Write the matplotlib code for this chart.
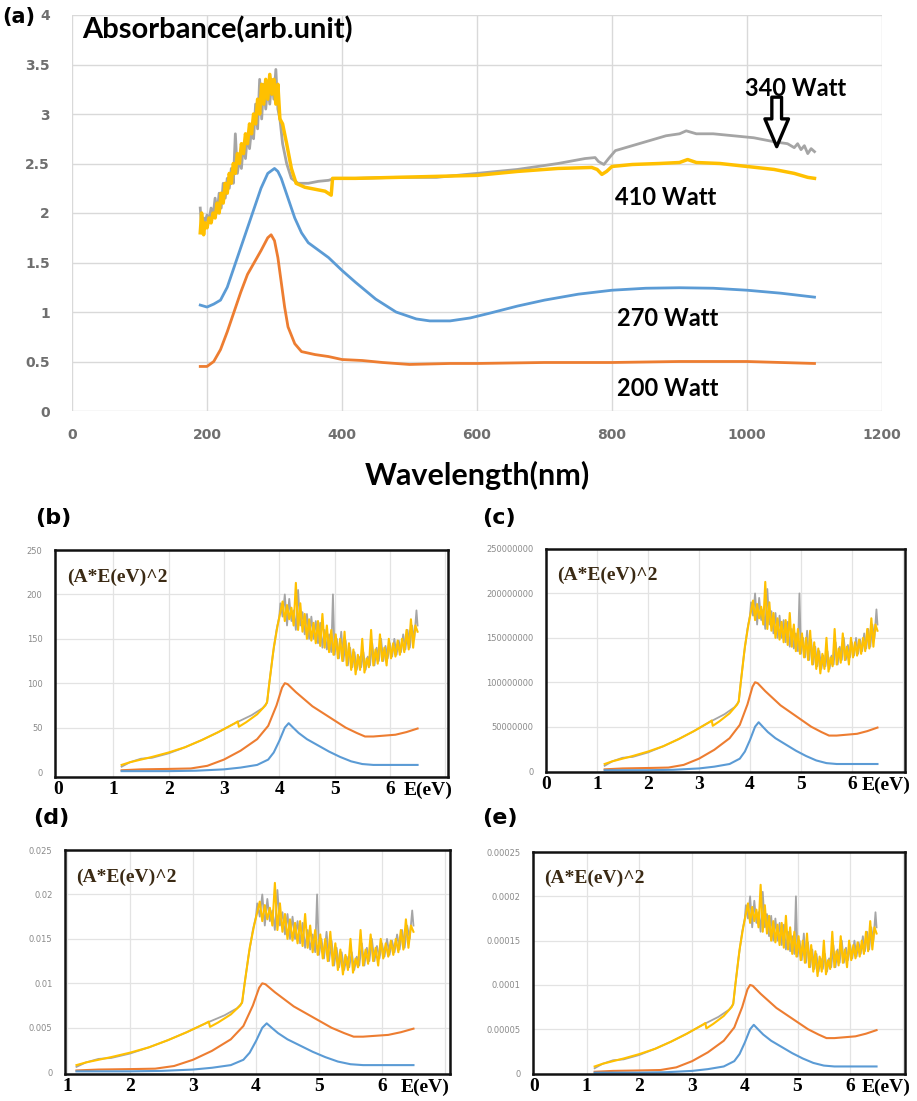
import numpy as np
import matplotlib
matplotlib.use('Agg')
import matplotlib.pyplot as plt

# ---------------- (a) absorbance vs wavelength ----------------
wl_200 = [190, 200, 210, 220, 230, 240, 250, 260, 270, 280, 290, 295, 300, 305, 310, 315, 320, 330, 340, 360,
          380, 400, 430, 460, 500, 560, 600, 700, 800, 900, 1000, 1050, 1100]
abs_200 = [0.45, 0.45, 0.5, 0.62, 0.8, 1.0, 1.2, 1.38, 1.5, 1.62, 1.75, 1.78, 1.72, 1.55, 1.3, 1.05, 0.85, 0.68, 0.6, 0.57,
           0.55, 0.52, 0.51, 0.49, 0.47, 0.48, 0.48, 0.49, 0.49, 0.5, 0.5, 0.49, 0.48]

wl_270 = [190, 200, 210, 220, 230, 240, 250, 260, 270, 280, 290, 300, 305, 310, 320, 330, 340, 350, 370, 380,
          400, 420, 450, 480, 510, 530, 560, 590, 620, 660, 700, 750, 800, 850, 900, 950, 1000, 1050, 1100]
abs_270 = [1.07, 1.05, 1.08, 1.12, 1.25, 1.45, 1.65, 1.85, 2.05, 2.25, 2.4, 2.45, 2.42, 2.35, 2.15, 1.95, 1.8, 1.7, 1.6, 1.55,
           1.42, 1.3, 1.13, 1.0, 0.93, 0.91, 0.91, 0.94, 0.99, 1.06, 1.12, 1.18, 1.22, 1.24, 1.245, 1.24, 1.22, 1.19, 1.15]

wl_340 = [190, 192, 195, 197, 200, 203, 206, 209, 212, 215, 218, 221, 224, 227, 230, 233, 236, 239, 242, 245,
          248, 251, 254, 257, 260, 263, 266, 269, 272, 275, 278, 281, 284, 287, 290, 293, 296, 299, 302, 305,
          308, 312, 318, 325, 335, 350, 365, 380, 390, 420, 480, 540, 600, 660, 720, 760, 775, 780, 788, 795,
          805, 830, 860, 880, 900, 910, 925, 950, 980, 1010, 1040, 1060, 1070, 1075, 1080, 1085, 1090, 1095, 1100]
abs_340 = [2.05, 1.85, 1.95, 1.9, 1.98, 1.92, 2.05, 1.97, 2.15, 2.0, 2.2, 2.05, 2.3, 2.15, 2.35, 2.25, 2.45, 2.3, 2.8, 2.4,
           2.55, 2.45, 2.7, 2.55, 2.8, 2.65, 2.85, 2.75, 3.1, 2.85, 3.35, 2.95, 3.3, 3.05, 3.3, 3.1, 3.35, 3.15, 3.45, 3.05,
           2.95, 2.7, 2.5, 2.35, 2.3, 2.3, 2.32, 2.33, 2.35, 2.35, 2.36, 2.36, 2.4, 2.44, 2.5, 2.55, 2.56, 2.52, 2.49, 2.55,
           2.63, 2.68, 2.74, 2.78, 2.8, 2.83, 2.8, 2.8, 2.78, 2.76, 2.72, 2.7, 2.66, 2.7, 2.64, 2.68, 2.6, 2.65, 2.62]

wl_410 = [190, 192, 195, 197, 200, 203, 206, 209, 212, 215, 218, 221, 224, 227, 230, 233, 236, 239, 242, 245,
          248, 251, 254, 257, 260, 263, 266, 269, 272, 275, 278, 281, 284, 287, 290, 293, 296, 299, 302, 305,
          308, 312, 318, 325, 332, 345, 360, 375, 384, 386, 420, 480, 540, 600, 660, 720, 770, 778, 785, 792,
          800, 830, 870, 900, 912, 925, 960, 1000, 1040, 1070, 1090, 1100]
abs_410 = [1.8, 2.0, 1.78, 1.9, 1.85, 1.95, 1.9, 2.0, 1.95, 2.1, 2.0, 2.2, 2.1, 2.3, 2.2, 2.4, 2.3, 2.5, 2.4, 2.6,
           2.5, 2.7, 2.6, 2.8, 2.7, 2.9, 2.8, 3.0, 2.9, 3.15, 3.0, 3.3, 3.1, 3.35, 3.15, 3.4, 3.2, 3.35, 3.1, 3.3,
           2.95, 2.9, 2.7, 2.45, 2.3, 2.26, 2.24, 2.22, 2.18, 2.35, 2.35, 2.36, 2.37, 2.38, 2.42, 2.45, 2.46, 2.44, 2.39, 2.42,
           2.47, 2.49, 2.5, 2.51, 2.54, 2.51, 2.5, 2.47, 2.44, 2.4, 2.36, 2.35]

# ---------------- (b)-(e) (A*E)^2 vs E, values in units of panel (b) ----------------
e_blue = [1.15, 1.5, 2.0, 2.5, 3.0, 3.3, 3.6, 3.8, 3.9, 4.0, 4.1, 4.17, 4.25, 4.35, 4.5, 4.7, 4.9, 5.1, 5.3, 5.5,
          5.7, 6.0, 6.3, 6.5]
t_blue = [1, 1, 1, 1.5, 3, 5, 8, 14, 22, 35, 50, 55, 50, 44, 37, 30, 23, 17, 12, 9,
          8, 8, 8, 8]

e_orange = [1.15, 1.5, 2.0, 2.4, 2.7, 3.0, 3.3, 3.6, 3.8, 3.95, 4.05, 4.1, 4.15, 4.3, 4.45, 4.6, 4.8, 5.0, 5.2, 5.4,
            5.55, 5.7, 5.9, 6.1, 6.3, 6.5]
t_orange = [2, 3, 3.5, 4, 7, 14, 24, 37, 52, 75, 95, 100, 99, 90, 82, 74, 66, 58, 50, 44,
            40, 40, 41, 42, 45, 49]

e_gray = [1.15, 1.3, 1.5, 1.7, 2.0, 2.3, 2.6, 2.9, 3.2, 3.3, 3.5, 3.7, 3.78, 3.82, 3.88, 3.95, 4.0,
          4.02, 4.06, 4.10, 4.14, 4.18, 4.22, 4.26, 4.30, 4.34, 4.38, 4.42, 4.46, 4.50, 4.54, 4.58, 4.62, 4.66, 4.70,
          4.74, 4.78, 4.82, 4.86, 4.90, 4.94, 4.97, 5.00, 5.04, 5.08, 5.12, 5.16, 5.20, 5.24, 5.28, 5.32, 5.36, 5.40,
          5.44, 5.48, 5.52, 5.56, 5.60, 5.64, 5.68, 5.72, 5.76, 5.80, 5.84, 5.88, 5.92, 5.96, 6.00, 6.04, 6.08, 6.12,
          6.16, 6.20, 6.24, 6.28, 6.32, 6.36, 6.40, 6.44, 6.48, 6.50]
t_gray = [6, 11, 15, 16, 21, 28, 36, 45, 55, 58, 64, 72, 78, 100, 130, 160, 175,
          190, 175, 200, 165, 195, 170, 182, 160, 205, 165, 180, 155, 178, 150, 175, 150, 170, 145,
          168, 140, 160, 138, 155, 135, 200, 132, 150, 128, 158, 125, 148, 120, 140, 118, 135, 115,
          130, 118, 135, 115, 130, 120, 145, 120, 140, 125, 150, 125, 142, 128, 145, 130, 150, 132,
          148, 135, 155, 138, 160, 140, 165, 150, 182, 165]

e_yellow = [1.15, 1.3, 1.5, 1.7, 2.0, 2.3, 2.6, 2.9, 3.2, 3.25, 3.27, 3.4, 3.6, 3.75, 3.78, 3.82, 3.9, 3.97,
            4.02, 4.06, 4.10, 4.14, 4.18, 4.22, 4.26, 4.30, 4.34, 4.38, 4.42, 4.46, 4.50, 4.54, 4.58, 4.62, 4.66,
            4.70, 4.74, 4.78, 4.82, 4.86, 4.90, 4.94, 4.98, 5.02, 5.06, 5.10, 5.14, 5.18, 5.22, 5.26, 5.30, 5.34,
            5.38, 5.42, 5.46, 5.50, 5.54, 5.58, 5.62, 5.66, 5.70, 5.74, 5.78, 5.82, 5.86, 5.90, 5.94, 5.98, 6.02,
            6.06, 6.10, 6.14, 6.18, 6.22, 6.26, 6.30, 6.34, 6.38, 6.42, 6.46, 6.50]
t_yellow = [8, 11, 14, 17, 22, 28, 36, 45, 55, 57, 51, 56, 65, 75, 79, 100, 140, 165,
            180, 192, 170, 188, 172, 185, 165, 213, 160, 190, 158, 178, 150, 172, 148, 168, 145,
            170, 142, 178, 140, 165, 135, 160, 132, 155, 128, 150, 125, 158, 120, 145, 115, 138,
            110, 132, 115, 150, 112, 128, 118, 160, 120, 138, 122, 155, 125, 140, 120, 150, 128,
            145, 130, 148, 132, 150, 135, 160, 138, 172, 140, 165, 158]

panel_names = ['(b)', '(c)', '(d)', '(e)']
panel_scale = [1, 1e6, 1e-4, 1e-6]
panel_yticklabels = [['0', '50', '100', '150', '200', '250'],
                     ['0', '50000000', '100000000', '150000000', '200000000', '250000000'],
                     ['0', '0.005', '0.01', '0.015', '0.02', '0.025'],
                     ['0', '0.00005', '0.0001', '0.00015', '0.0002', '0.00025']]
panel_xticks = [[0, 1, 2, 3, 4, 5, 6], [0, 1, 2, 3, 4, 5, 6], [1, 2, 3, 4, 5, 6], [0, 1, 2, 3, 4, 5, 6]]

BLUE = '#5B9BD5'
ORANGE = '#ED7D31'
GRAY = '#A5A5A5'
YELLOW = '#FFC000'

W, H = 917, 1101
fig = plt.figure(figsize=(W / 100, H / 100), dpi=100)


def box(l, t, r, b):
    return [l / W, 1 - b / H, (r - l) / W, (b - t) / H]


# ---- panel (a)
ax = fig.add_axes(box(72, 15, 882, 411))
ax.plot(wl_200, abs_200, color=ORANGE, lw=2)
ax.plot(wl_270, abs_270, color=BLUE, lw=2)
ax.plot(wl_340, abs_340, color=GRAY, lw=2)
ax.plot(wl_410, abs_410, color=YELLOW, lw=2.5)
ax.set_xlim(0, 1200)
ax.set_ylim(0, 4)
ax.set_xticks(range(0, 1201, 200))
ax.set_yticks([0, 0.5, 1, 1.5, 2, 2.5, 3, 3.5, 4])
ax.set_yticklabels(['0', '0.5', '1', '1.5', '2', '2.5', '3', '3.5', '4'])
ax.grid(color='#d9d9d9', lw=1)
ax.set_axisbelow(True)
for s in ax.spines.values():
    s.set_visible(False)
ax.tick_params(length=0, labelsize=10, labelcolor='#6f6f6f')
ax.tick_params(axis='y', pad=16)
ax.tick_params(axis='x', pad=12)
for lab in ax.get_xticklabels() + ax.get_yticklabels():
    lab.set_fontweight('bold')
ax.set_xlabel('Wavelength(nm)', fontsize=22, fontweight='bold', family='Lato', labelpad=14)
ax.text(0.012, 0.962, 'Absorbance(arb.unit)', transform=ax.transAxes, fontsize=21,
        fontweight='bold', family='Lato', va='center', ha='left')
ax.text(997, 3.26, '340 Watt', fontsize=17, fontweight='bold', family='Lato', va='center')
ax.text(804, 2.16, '410 Watt', fontsize=17, fontweight='bold', family='Lato', va='center')
ax.text(807, 0.93, '270 Watt', fontsize=17, fontweight='bold', family='Lato', va='center')
ax.text(807, 0.23, '200 Watt', fontsize=17, fontweight='bold', family='Lato', va='center')
ax.annotate('', xy=(1044, 2.67), xytext=(1044, 3.17),
            arrowprops=dict(arrowstyle='simple,head_width=0.85,head_length=1.0,tail_width=0.35',
                            fc='white', ec='black', lw=2.4, mutation_scale=20, shrinkA=0, shrinkB=0))
fig.text(2 / W, 1 - 17 / H, '(a)', fontsize=15, fontweight='bold', va='center', ha='left')

# ---- panels (b)-(e)
frames = [(55, 550, 448, 777), (546, 549, 905, 772), (65, 850, 450, 1074), (533, 852, 905, 1074)]
xlims = [(-0.054, 7.05), (0, 7.04), (0.968, 7.08), (-0.02, 7.04)]
ylims_b = [(-5.6, 250), (-1, 250), (-2, 250), (-0.5, 250)]
label_pos = [(35, 518), (482, 518), (33, 818), (482, 818)]
ev_x = [1.012, 1.016, 1.0, 1.016]

for i in range(4):
    sc = panel_scale[i]
    ax = fig.add_axes(box(*frames[i]))
    ax.plot(e_gray, np.array(t_gray) * sc, color=GRAY, lw=1.3)
    ax.plot(e_yellow, np.array(t_yellow) * sc, color=YELLOW, lw=1.5)
    ax.plot(e_orange, np.array(t_orange) * sc, color=ORANGE, lw=1.5)
    ax.plot(e_blue, np.array(t_blue) * sc, color=BLUE, lw=1.5)
    ax.set_xlim(*xlims[i])
    ax.set_ylim(ylims_b[i][0] * sc, ylims_b[i][1] * sc)
    ax.set_yticks(np.arange(0, 251, 50) * sc)
    ax.set_yticklabels(panel_yticklabels[i])
    ax.set_xticks(panel_xticks[i])
    ax.set_xticklabels([str(v) for v in panel_xticks[i]])
    for g in range(1, 8):
        ax.axvline(g, color='#e3e3e3', lw=0.9, zorder=0)
    for g in range(50, 201, 50):
        ax.axhline(g * sc, color='#e3e3e3', lw=0.9, zorder=0)
    for s in ax.spines.values():
        s.set_linewidth(1.8)
        s.set_color('#111111')
    ax.tick_params(length=0)
    ax.tick_params(axis='y', labelsize=6, labelcolor='#8a8a8a', pad=9)
    ax.tick_params(axis='x', labelsize=14, pad=3)
    for lab in ax.get_xticklabels():
        lab.set_fontweight('bold')
        lab.set_family('Liberation Serif')
    ax.text(ev_x[i], -0.06, 'E(eV)', transform=ax.transAxes, ha='right', va='center',
            fontsize=14, fontweight='bold', family='Liberation Serif')
    ax.text(0.03, 0.88, '(A*E(eV)^2', transform=ax.transAxes, ha='left', va='center',
            fontsize=14, fontweight='bold', family='Liberation Serif', color='#3b2a14')
    lx, ly = label_pos[i]
    fig.text(lx / W, 1 - ly / H, panel_names[i], fontsize=16, fontweight='bold', va='center', ha='left')

fig.savefig('out.png', dpi=100)
